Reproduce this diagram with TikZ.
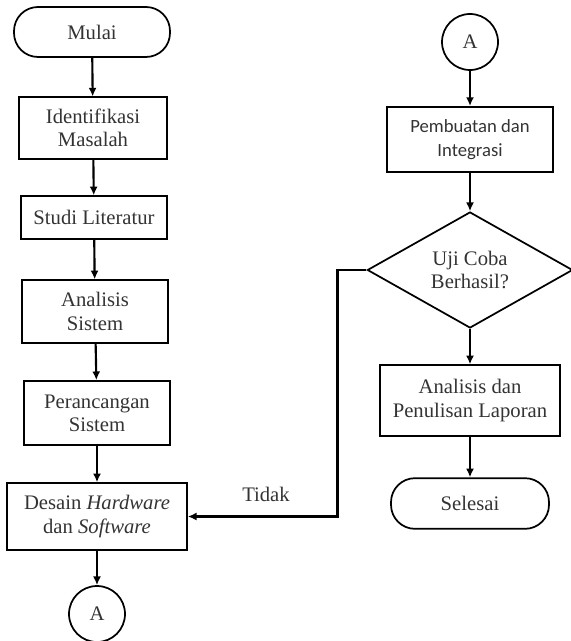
\documentclass[tikz,border=0pt]{standalone}
\usepackage{fontspec}
\setmainfont{Liberation Serif}
\newfontfamily\calibrifont{Carlito}
\usetikzlibrary{arrows.meta, shapes.geometric}

\begin{document}
\begin{tikzpicture}[
    x=0.75pt, y=-0.75pt,
    font=\fontsize{15.5}{17.5}\selectfont, text=black!80,
    process/.style={draw, line width=1.3pt, align=center, inner sep=2pt},
    terminal/.style={draw, line width=1.3pt, rounded corners=18pt, align=center},
    connector/.style={draw, circle, line width=1.3pt, minimum size=42pt, inner sep=0pt},
    decision/.style={draw, diamond, line width=1.3pt, aspect=2, inner sep=0pt, align=center},
    arrow/.style={-{Latex[length=6.5pt, width=6pt]}, line width=1.6pt},
]
    % page frame
    \useasboundingbox (0,0) rectangle (570,641);

    % Left column
    \node[terminal, minimum width=117pt, minimum height=37.5pt] (mulai) at (92, 32) {Mulai};
    \node[process, minimum width=111pt, minimum height=46pt] (identifikasi) at (93, 128) {Identifikasi\\Masalah};
    \node[process, minimum width=110pt, minimum height=32pt] (studi) at (94, 217.5) {Studi Literatur};
    \node[process, minimum width=110pt, minimum height=47pt] (analisis) at (95, 311.5) {Analisis\\Sistem};
    \node[process, minimum width=110pt, minimum height=48pt] (perancangan) at (97, 413) {Perancangan\\Sistem};
    \node[process, minimum width=135pt, minimum height=50pt] (desain) at (97, 516.5) {Desain \textit{Hardware}\\dan \textit{Software}};
    \node[connector] (aout) at (97, 614) {A};

    \draw[arrow] (mulai) -- (identifikasi);
    \draw[arrow] (identifikasi) -- (studi);
    \draw[arrow] (studi) -- (analisis);
    \draw[arrow] (analisis) -- (perancangan);
    \draw[arrow] (perancangan) -- (desain);
    \draw[arrow] (desain) -- (aout);

    % Right column
    \node[connector] (ain) at (470, 42) {A};
    \node[process, minimum width=124pt, minimum height=49pt, font=\calibrifont\fontsize{14}{18}\selectfont] (pembuatan) at (470, 139.5) {Pembuatan dan\\Integrasi};
    \node[decision, minimum width=154pt, minimum height=87pt] (uji) at (470, 270) {Uji Coba\\Berhasil?};
    \node[process, minimum width=135pt, minimum height=53pt] (laporan) at (470, 400.5) {Analisis dan\\Penulisan Laporan};
    \node[terminal, minimum width=118.5pt, minimum height=38pt] (selesai) at (470, 503.5) {Selesai};

    \draw[arrow] (ain) -- (pembuatan);
    \draw[arrow] (pembuatan) -- (uji);
    \draw[arrow] (uji) -- (laporan);
    \draw[arrow] (laporan) -- (selesai);

    % Loop back
    \node (tidak) at (266, 494) {Tidak};
    \draw[arrow] (uji.west) -- ++(-29, 0) |- (desain.east);

\end{tikzpicture}
\end{document}
